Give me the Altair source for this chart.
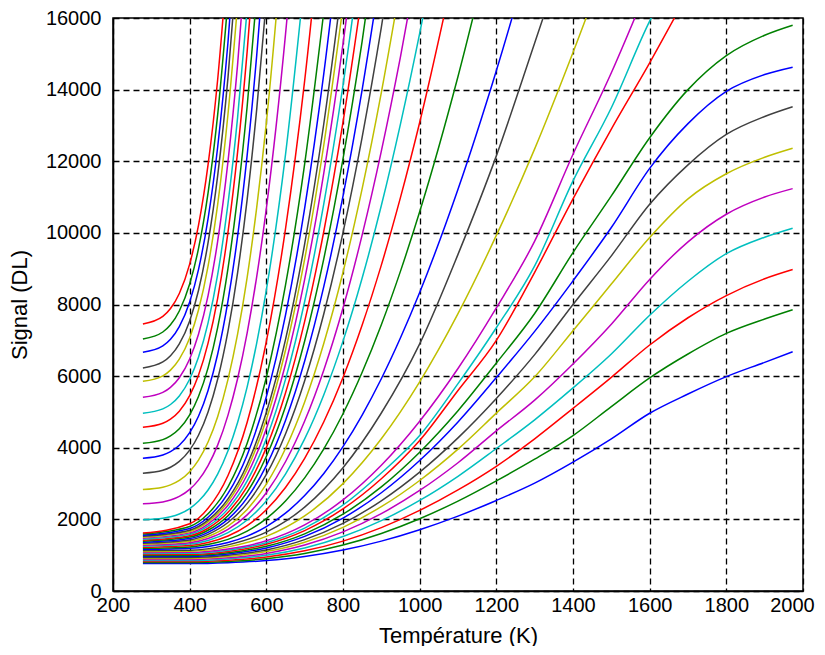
import altair as alt
import pandas as pd

_ = None

# Temperature grid (K) at which the curve values were read
TEMPS = [278, 330, 350, 373, 400, 423, 448, 473, 500, 525, 550, 575, 600, 650, 700,
         750, 800, 850, 900, 950, 1000, 1100, 1200, 1300, 1400, 1500, 1600, 1700,
         1800, 1900, 1973]

# Signal (DL) read for each curve (None = not read at that temperature)
SIGNALS = [
    [765, _, _, _, 766, _, _, _, 790, _, _, _, 849, _, 963, _, 1143, _, 1393, _, 1711, 2091, 2528, 3011, 3597, 4248, 4963, 5500, 5985, 6385, 6682],
    [793, _, _, _, 794, _, _, _, 826, _, _, _, 902, _, 1049, _, 1283, _, 1607, _, 2018, 2510, 3076, 3680, 4341, 5150, 5950, 6618, 7193, 7594, 7853],
    [822, _, _, _, 823, _, _, _, 860, _, _, _, 948, _, 1121, _, 1393, _, 1770, _, 2250, 2824, 3483, 4250, 5100, 5966, 6869, 7630, 8250, 8720, 8977],
    [850, _, _, _, 851, _, _, _, 895, _, _, _, 999, _, 1202, _, 1521, _, 1965, _, 2529, 3204, 3979, 4780, 5670, 6618, 7700, 8650, 9420, 9880, 10131],
    [879, _, _, _, 880, _, _, _, 930, _, _, _, 1050, _, 1283, _, 1650, _, 2160, _, 2807, 3582, 4472, 5330, 6340, 7450, 8700, 9750, 10520, 11000, 11235],
    [907, _, _, _, 909, _, _, _, 965, _, _, _, 1100, _, 1363, _, 1778, _, 2354, _, 3086, 3962, 4968, 5980, 7268, 8570, 9869, 10950, 11650, 12110, 12361],
    [935, _, _, _, 937, _, _, _, 999, _, _, _, 1146, _, 1434, _, 1888, _, 2518, _, 3318, 4276, 5376, 6600, 8000, 9359, 10800, 11900, 12750, 13250, 13522],
    [964, _, _, _, 966, _, _, _, 1036, _, _, _, 1201, _, 1525, _, 2036, _, 2744, _, 3644, 4721, 5959, 7250, 8661, 10150, 11800, 13050, 13950, 14420, 14626],
    [992, _, _, _, 994, _, _, _, 1069, _, _, _, 1247, _, 1596, _, 2145, _, 2907, _, 3875, 5034, 6365, 7750, 9451, 11031, 12657, 14000, 14950, 15520, 15800],
    [1021, _, _, _, 1023, _, _, _, 1106, _, _, _, 1303, _, 1687, _, 2292, _, 3133, _, 4201, 5600, 7000, 8900, 10950, 12900, 14750, 16700],
    [1049, _, _, _, 1051, _, _, _, 1139, _, _, _, 1349, _, 1757, _, 2401, _, 3295, _, 4341, 5790, 7350, 9077, 11450, 13494, 15911, 17800],
    [1077, _, _, _, 1079, _, _, _, 1175, _, _, _, 1401, _, 1844, _, 2542, _, 3510, _, 4740, 6213, 7905, 9770, 12194, 14470, 17000],
    [1106, _, _, _, 1109, _, _, _, 1232, _, _, _, 1525, _, 2097, _, 2999, _, 4251, _, 5840, 7744, 9929, 12345, 15037, 17900],
    [1134, _, _, _, 1137, _, _, _, 1288, _, _, _, 1645, _, 2340, _, 3440, _, 4970, _, 6900, 9400, 12150, 15300, 18500],
    [1163, _, _, _, 1194, _, 1245, _, 1354, _, 1531, _, 1798, 2173, 2665, 3283, 4031, 4914, 5927, 7070, 8335, 11218, 14529, 18200],
    [1191, _, _, _, 1231, _, 1299, _, 1442, _, 1673, _, 2023, 2514, 3159, 3969, 4950, 6107, 7434, 8932, 10589, 14368, 18707],
    [1219, _, _, _, 1270, _, 1355, _, 1536, _, 1828, _, 2270, 2889, 3703, 4726, 5964, 7425, 9100, 10990, 13083, 17853],
    [1248, _, _, _, 1310, _, 1412, _, 1630, _, 1983, _, 2517, 3264, 4247, 5482, 6977, 8740, 10763, 13046, 15572, 21331],
    [1276, _, _, _, 1347, _, 1466, _, 1718, _, 2126, _, 2744, 3609, 4745, 6174, 7903, 9943, 12283, 14923, 17846],
    [1305, _, _, _, 1387, _, 1523, _, 1812, _, 2279, _, 2987, 3978, 5280, 6918, 8899, 11237, 13919, 16944],
    [1333, _, _, _, 1426, _, 1582, _, 1912, _, 2446, _, 3254, 4386, 5873, 7743, 10005, 12676, 15738, 19193],
    [1361, _, _, _, 1465, _, 1638, _, 2006, _, 2601, _, 3502, 4763, 6421, 8505, 11026, 14002, 17415],
    [1390, _, _, _, 1505, _, 1696, _, 2103, _, 2760, _, 3755, 5149, 6980, 9282, 12068, 15356, 19127],
    [1418, _, _, _, 1543, _, 1752, _, 2197, _, 2916, _, 4003, 5527, 7529, 10045, 13090, 16684],
    [1447, _, _, _, 1583, _, 1810, _, 2293, _, 3073, _, 4254, 5909, 8083, 10816, 14122, 18025],
    [1475, _, _, _, 1623, _, 1870, _, 2396, _, 3246, _, 4532, 6333, 8701, 11677, 15277, 19527],
    [1503, _, _, _, 1662, _, 1928, _, 2492, _, 3405, _, 4786, 6722, 9264, 12461, 16329],
    [1532, _, _, _, 1699, _, 1979, _, 2572, _, 3532, _, 4984, 7019, 9693, 13054, 17121],
    [1560, _, _, _, 1747, _, 2060, _, 2724, _, 3798, _, 5424, 7701, 10693, 14455, 19006],
    [1589, _, _, _, 1801, _, 2155, _, 2907, _, 4123, _, 5963, 8540, 11928, 16186],
    [1617, _, _, _, 1876, _, 2308, _, 3227, _, 4713, _, 6961, 10110, 14249, 19452],
    [1990, 2030, 2071, 2149, 2302, 2504, 2820, 3263, 3916, 4706, 5701, 6928, 8402, 12185, 17157],
    [2436, 2487, 2540, 2641, 2837, 3097, 3503, 4073, 4912, 5927, 7207, 8784, 10678, 15541, 21931],
    [2835, 2899, 2964, 3089, 3333, 3655, 4160, 4867, 5910, 7171, 8760, 10718, 13071, 19111],
    [3290, 3372, 3456, 3618, 3933, 4349, 5000, 5913, 7258, 8885, 10935, 13462, 16498],
    [3708, 3799, 3892, 4071, 4420, 4880, 5601, 6611, 8101, 9901, 12171, 14969, 18329],
    [4126, 4227, 4331, 4530, 4918, 5429, 6231, 7354, 9010, 11012, 13536, 16646],
    [4572, 4685, 4800, 5022, 5455, 6025, 6920, 8173, 10020, 12253, 15068, 18538],
    [4963, 5084, 5208, 5447, 5912, 6525, 7486, 8832, 10818, 13218, 16243],
    [5409, 5545, 5685, 5954, 6477, 7167, 8249, 9764, 11998, 14699, 18103],
    [5855, 6009, 6168, 6472, 7065, 7846, 9072, 10788, 13320, 16379],
    [6227, 6395, 6567, 6898, 7542, 8392, 9725, 11590, 14342, 17669],
    [6664, 6843, 7027, 7380, 8068, 8975, 10398, 12391, 15329, 18881],
    [7036, 7232, 7433, 7819, 8571, 9562, 11117, 13294, 16506],
    [7455, 7668, 7888, 8308, 9128, 10209, 11904, 14277, 17778],
]

# MATLAB default colour order (b, g, r, c, m, y, k)
COLORS = ["#0000FF", "#008000", "#FF0000", "#00BFBF", "#BF00BF", "#BFBF00", "#404040"]

X_TICKS = list(range(200, 2001, 200))
Y_TICKS = list(range(0, 16001, 2000))

rows = []
for i, vals in enumerate(SIGNALS):
    for t, s in zip(TEMPS, vals):
        if s is not None:
            rows.append({"curve": i, "T": t, "S": s, "col": COLORS[i % len(COLORS)]})
df = pd.DataFrame(rows)

FONT = "Liberation Sans"

chart = alt.Chart(df).mark_line(
    interpolate="monotone", strokeWidth=1.5, clip=True
).encode(
    x=alt.X("T:Q",
            scale=alt.Scale(domain=[200, 2000], nice=False, zero=False),
            axis=alt.Axis(values=X_TICKS, format="d", title="Température (K)",
                          titlePadding=10, labelPadding=4, labelFlush=False,
                          labelOffset={"condition": {"test": "datum.value == 2000", "value": -11},
                                       "value": 0})),
    y=alt.Y("S:Q",
            scale=alt.Scale(domain=[0, 16000], nice=False),
            axis=alt.Axis(values=Y_TICKS, format="d", title="Signal (DL)",
                          titlePadding=14, labelPadding=12, labelFlush=False)),
    color=alt.Color("col:N", scale=None),
    detail="curve:N",
).properties(
    width=690,
    height=573,
    autosize=alt.AutoSizeParams(type="none"),
    padding={"left": 105, "top": 10, "right": 14, "bottom": 55},
).configure_axis(
    grid=True,
    gridColor="black",
    gridDash=[6, 4],
    gridWidth=1.3,
    gridOpacity=1,
    domainColor="black",
    domainWidth=1.5,
    ticks=False,
    zindex=1,
    labelFont=FONT,
    labelFontSize=20,
    labelColor="black",
    titleFont=FONT,
    titleFontSize=22,
    titleFontWeight="normal",
    titleColor="black",
).configure_view(
    stroke="black",
    strokeWidth=1.5,
)

chart.save("out.html", embed_options={"renderer": "svg", "actions": False})
